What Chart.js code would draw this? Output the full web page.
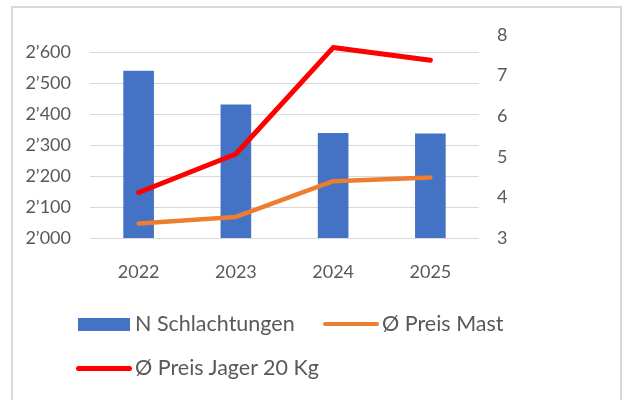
<!DOCTYPE html>
<html>
<head>
<meta charset="utf-8">
<script src="https://cdn.jsdelivr.net/npm/chart.js@4/dist/chart.umd.min.js"></script>
<style>
  html, body { margin: 0; padding: 0; background: #fff; }
  #wrap { position: relative; width: 622px; height: 400px; overflow: hidden; font-family: Lato, sans-serif; }
  #frame { position: absolute; left: 11px; top: 6px; width: 607px; height: 400px; border: 2px solid #d9d9d9; border-bottom: none; }
  #chart { position: absolute; left: 0; top: 0; }
  .legendItem { position: absolute; font-size: 21.5px; color: #595959; white-space: nowrap; line-height: 24px; }
  .swatch { position: absolute; }
</style>
</head>
<body>
<div id="wrap">
  <div id="frame"></div>
  <canvas id="chart" width="622" height="400"></canvas>
  <div id="legend"></div>
</div>
<script>
// data
const years = ["2022", "2023", "2024", "2025"];
const schlachtungen = [2540, 2431, 2339, 2337];
const preisMast = [3.36, 3.52, 4.40, 4.49];
const preisJager = [4.12, 5.07, 7.69, 7.38];

const leftTicks = { min: 2000, max: 2655, step: 100 };
const rightTicks = { min: 3, max: 8, step: 1 };

const textColor = "#595959";
const gridColor = "#d9d9d9";

const fmt = (v) => String(v).replace(/\B(?=(\d{3})+(?!\d))/g, "\u2019");

Chart.defaults.font.family = "Lato, sans-serif";
Chart.defaults.font.size = 18;
Chart.defaults.color = textColor;

const datasets = [
  {
    type: "bar",
    label: "N Schlachtungen",
    data: schlachtungen,
    backgroundColor: "#4472C4",
    yAxisID: "y",
    barPercentage: 0.315,
    categoryPercentage: 1,
    order: 3,
  },
  {
    type: "line",
    label: "\u00D8 Preis Mast",
    data: preisMast,
    borderColor: "#ED7D31",
    borderWidth: 4.5,
    pointRadius: 0,
    borderCapStyle: "round",
    borderJoinStyle: "round",
    yAxisID: "y2",
    order: 2,
  },
  {
    type: "line",
    label: "\u00D8 Preis Jager 20 Kg",
    data: preisJager,
    borderColor: "#FF0000",
    borderWidth: 5,
    pointRadius: 0,
    borderCapStyle: "round",
    borderJoinStyle: "round",
    yAxisID: "y2",
    order: 1,
  },
];

new Chart(document.getElementById("chart"), {
  data: { labels: years, datasets },
  options: {
    responsive: false,
    animation: false,
    layout: { padding: { left: 12, right: 2, top: 35, bottom: 0 } },
    plugins: { legend: { display: false }, tooltip: { enabled: false } },
    scales: {
      x: {
        offset: true,
        grid: { display: false },
        border: { display: false },
        ticks: { padding: 15, color: textColor },
        afterFit: (s) => { s.height = 162; },
      },
      y: {
        position: "left",
        min: leftTicks.min,
        max: leftTicks.max,
        grid: { color: gridColor, lineWidth: 1, drawTicks: false },
        border: { display: false },
        ticks: {
          stepSize: leftTicks.step,
          includeBounds: false,
          padding: 19,
          color: textColor,
          callback: (v) => fmt(v),
        },
        afterFit: (s) => { s.width = 78; },
      },
      y2: {
        position: "right",
        min: rightTicks.min,
        max: rightTicks.max,
        grid: { display: false, drawTicks: false },
        border: { display: false },
        ticks: { stepSize: rightTicks.step, padding: 18, color: textColor },
        afterFit: (s) => { s.width = 141; },
      },
    },
  },
});

// legend laid out like the Excel one (fixed columns)
const legendSlots = [
  { x: 78, y: 324, kind: "box" },
  { x: 323, y: 324, kind: "line" },
  { x: 76, y: 368, kind: "line" },
];
const legendEl = document.getElementById("legend");
datasets.forEach((ds, i) => {
  const slot = legendSlots[i];
  const sw = document.createElement("div");
  sw.className = "swatch";
  if (slot.kind === "box") {
    Object.assign(sw.style, { left: slot.x + "px", top: slot.y - 6 + "px", width: "52px", height: "13px", background: ds.backgroundColor });
  } else {
    const h = ds.borderWidth;
    Object.assign(sw.style, { left: slot.x + "px", top: slot.y - h / 2 + "px", width: "56px", height: h + "px", borderRadius: h + "px", background: ds.borderColor });
  }
  legendEl.appendChild(sw);
  const t = document.createElement("div");
  t.className = "legendItem";
  t.textContent = ds.label;
  t.style.left = slot.x + (slot.kind === "box" ? 57 : 59) + "px";
  t.style.top = slot.y - 13 + "px";
  legendEl.appendChild(t);
});
</script>
</body>
</html>
